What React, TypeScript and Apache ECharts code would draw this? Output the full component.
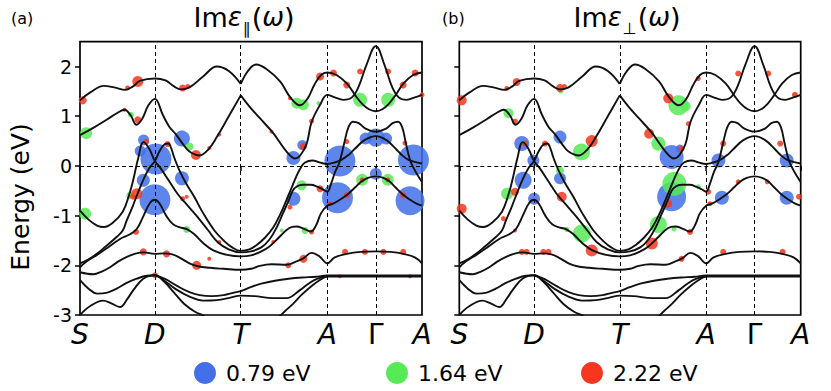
import React, { useEffect, useRef } from 'react';
import * as echarts from 'echarts';

const FONT = "'DejaVu Sans', 'Noto Sans', sans-serif";

// high-symmetry points along the k-path
const kPointLabels = ['S', 'D', 'T', 'A', 'Γ', 'A'];
const kPointPos = [0, 21.9, 47, 72.3, 86.5, 100];
const energyTicks = [-3, -2, -1, 0, 1, 2];

// band structure (k-path coordinate, energy eV)
const bandTopA = [[0,1.32],[3,1.48],[7,1.61],[10,1.58],[13.3,1.53],[15.5,1.6],[17.5,1.71],[21.9,1.76],[25,1.72],[27.5,1.6],[29.5,1.54],[32,1.58],[36,1.8],[40,2.0],[43.5,1.91],[47,1.65]];
const bandTopB = [[47,1.65],[49,1.9],[51.5,2.04],[54.5,1.95],[58.5,1.7],[61.5,1.38],[64.3,1.22],[66.5,1.35],[68.5,1.63],[70.5,1.83],[72.3,1.88],[75,1.83],[78,1.66],[80.5,1.42],[82.5,1.25],[84.5,1.14],[86.5,1.1],[88.4,1.14],[90.3,1.25],[92.2,1.42],[94.6,1.66],[97.4,1.83],[100,1.88]];
const bandSecondA = [[0,0.62],[4,0.77],[8,0.94],[11,1.07],[13,1.13],[14.8,1.02],[16.5,0.83],[18.2,0.95],[20,1.22],[21.9,1.35],[24.2,1.03],[26.1,0.79],[28.1,0.63],[30,0.45],[32,0.29],[35,0.21],[37.5,0.33],[40,0.58],[43.5,1.0],[47,1.42]];
const bandSecondB = [[47,1.42],[49.5,1.2],[52.6,0.96],[56.5,0.66],[60.4,0.29],[62.9,0.15],[64.5,0.22],[66.3,0.45],[67.7,0.88],[70.2,1.23],[72.3,1.43],[74.5,1.38],[77,1.33],[79.5,1.38],[81.5,1.6],[83.8,2.04],[86.5,2.41],[89,2.04],[91.2,1.6],[93.2,1.38],[95.5,1.33],[97.9,1.38],[100,1.43]];
const bandLeftPeak = [[0,-0.9],[2.5,-1.08],[5,-1.2],[7,-1.23],[9.5,-1.15],[12.5,-0.92],[14.2,-0.62],[15.5,-0.3],[17,0.15],[18.6,0.48],[20.2,0.35],[21.9,0.1],[23.6,-0.05],[26,-0.3],[28.5,-0.56],[31.5,-0.8],[34.4,-1.03],[37.5,-1.3],[40.2,-1.53],[43.5,-1.68],[47,-1.74],[50,-1.72],[53,-1.64],[55.4,-1.48],[57.5,-1.24],[59.3,-0.96],[61,-0.7],[62.2,-0.5],[63.5,-0.41],[65.1,-0.38],[67.5,-0.38],[69.5,-0.42],[71,-0.47],[72.3,-0.52],[73.4,-0.36],[74.6,-0.12],[75.9,0.08],[77.3,0.47],[78.5,0.78],[79.8,0.89],[81.5,0.86],[83.5,0.75],[86.5,0.69],[89.5,0.75],[91.4,0.86],[93,0.89],[94.2,0.78],[95.3,0.45],[96.5,0.12],[97.6,-0.05],[99,-0.22],[100,-0.32]];
const bandRightPeak = [[0,-1.96],[2.5,-1.88],[4.9,-1.77],[7.5,-1.62],[10.7,-1.43],[12.5,-1.3],[13.7,-1.09],[15.2,-0.85],[16.6,-0.6],[18.5,-0.28],[20.2,-0.05],[21.9,0.1],[23.3,0.3],[24.8,0.44],[25.8,0.45],[26.7,0.35],[27.5,0.18],[29,-0.08],[31,-0.35],[33.4,-0.62],[36,-0.95],[39.3,-1.3],[42,-1.5],[44.5,-1.64],[47,-1.71],[49.5,-1.68],[51.5,-1.6],[54,-1.45],[56.4,-1.25],[58.5,-0.98],[60.3,-0.7],[61.8,-0.45],[63.2,-0.22],[64.5,-0.04],[65.8,0.07],[68,0.11],[70,0.07],[72.3,0.04],[74,0.06],[76.4,0.12],[78.5,0.22],[80.3,0.34],[83.2,0.52],[86.5,0.6],[89.6,0.52],[92.4,0.34],[94.1,0.22],[96.1,0.12],[98.4,0.07],[100,0.05]];
const bandDPeak = [[0,-2.04],[2,-1.92],[5,-1.79],[8,-1.65],[11.7,-1.47],[14.5,-1.38],[16.6,-1.27],[18.6,-1.0],[20.5,-0.74],[21.9,-0.68],[23.3,-0.76],[25.2,-1.0],[27.3,-1.18],[29.5,-1.24],[31.5,-1.28],[33.5,-1.38],[36,-1.55],[39,-1.7],[43,-1.79],[47,-1.82],[50,-1.8],[53,-1.72],[55.4,-1.62],[58.3,-1.43],[61.2,-1.25],[63.3,-1.22],[65.3,-1.26],[67.5,-1.32],[69,-1.2],[70.5,-0.95],[72.3,-0.8],[74,-0.76],[76,-0.68],[78.3,-0.57],[80.5,-0.43],[82.2,-0.32],[84.2,-0.24],[86.5,-0.21],[88.7,-0.24],[90.6,-0.32],[92.2,-0.43],[94.3,-0.57],[96.5,-0.68],[98.4,-0.76],[100,-0.8]];
const bandFlat = [[0,-2.14],[3.9,-2.18],[6.5,-2.12],[8.8,-2.04],[11,-1.93],[13.7,-1.83],[16,-1.77],[18.6,-1.74],[21.9,-1.77],[24.5,-1.76],[27,-1.78],[29.5,-1.86],[32,-1.96],[34.5,-2.02],[38,-2.05],[42,-2.07],[47,-2.09],[50,-2.07],[52.6,-2.01],[56,-1.98],[60.4,-1.99],[63,-1.93],[65.3,-1.86],[67.7,-1.75],[70,-1.82],[72.3,-1.96],[74.5,-1.84],[78,-1.77],[82,-1.73],[86.5,-1.72],[90.8,-1.73],[94.6,-1.77],[97.9,-1.84],[100,-1.96]];
const bandLow1 = [[0,-2.3],[2.5,-2.47],[5,-2.57],[8,-2.55],[10.7,-2.47],[13.5,-2.36],[16.6,-2.27],[19.5,-2.21],[21.9,-2.2],[24.5,-2.3],[28,-2.48],[32,-2.63],[36,-2.71],[40,-2.7],[44,-2.65],[47,-2.61],[51,-2.62],[56.5,-2.66],[60.4,-2.66],[64.3,-2.5],[67,-2.36],[69.5,-2.27],[72.3,-2.225],[80,-2.225],[90,-2.225],[100,-2.225]];
const bandLowV = [[21.9,-2.2],[25,-2.28],[28.5,-2.42],[32,-2.54],[35,-2.6],[38.5,-2.62],[42,-2.6],[45,-2.55],[47,-2.52],[49.5,-2.45],[53,-2.37],[57,-2.31],[61,-2.27],[65,-2.245],[69,-2.23],[72.3,-2.205],[80,-2.205],[90,-2.205],[100,-2.205]];
const bandLow2 = [[0,-3.0],[3,-2.82],[6.8,-2.71],[9,-2.76],[11.7,-2.84],[13.8,-2.68],[15.6,-2.5],[18.5,-2.27],[21.9,-2.2],[24.5,-2.32],[27.5,-2.55],[30.5,-2.78],[33.5,-2.93],[36.3,-3.02],[38,-3.1]];
const bandFromBelow = [[57.5,-3.08],[60,-2.92],[62.5,-2.76],[65,-2.58],[68,-2.4],[70.5,-2.28],[72.3,-2.22]];

const bands = [bandTopA, bandTopB, bandSecondA, bandSecondB, bandLeftPeak, bandRightPeak, bandDPeak, bandFlat, bandLow1, bandLowV, bandLow2, bandFromBelow];

// transition weights: [k, E, bubble size]
const parBlue = [[18.6,0.52,11],[17.6,0.3,11],[22.2,0.14,31],[29.8,0.55,16],[18.5,-0.29,13],[29.8,-0.25,14],[21.9,-0.68,31],[62.4,0.16,14],[65,0.42,10],[86.5,0.57,18],[83.5,0.55,12],[89.5,0.55,12],[76,0.1,31],[97.5,0.12,31],[86.5,-0.16,12],[62.4,-0.66,14],[75.3,-0.64,31],[96.5,-0.7,29]];
const parGreen = [[1.8,0.66,12],[1.5,-0.96,12],[14.9,1.03,6],[32,0.39,8],[14.6,-0.59,7],[31.2,-1.28,7],[63.4,1.26,11],[65.3,1.23,11],[69.7,1.26,4],[81.9,1.33,14],[90.1,1.33,14],[82.5,-0.28,12],[90,-0.28,12],[64.8,-0.39,10],[65.8,-1.3,7],[59,-1.3,4]];
const parRed = [[0.8,1.32,8],[13.9,1.57,5],[16.9,1.7,11],[30,1.57,7],[31.5,1.6,5],[13,1.13,4],[16.9,0.93,7],[25.6,0.44,6],[19.3,0.48,6],[33.9,0.22,10],[37.8,0.36,4],[40.7,0.63,4],[16.6,-0.56,11],[15.5,-0.62,6],[30,-0.66,5],[31.2,-0.62,4],[16.4,-1.33,6],[40.7,-1.53,4],[37.8,-1.87,4],[18.5,-1.73,7],[25.3,-1.77,7],[34.1,-2.0,9],[21.9,-2.2,6],[61.4,1.36,4],[70.2,1.8,8],[74.1,1.87,7],[78,1.63,7],[81.9,1.9,6],[90.1,1.9,6],[94.5,1.63,7],[98,1.87,7],[100,1.43,5],[67.7,0.9,5],[65.3,0.39,7],[56,0.69,4],[78,0.49,5],[95,0.46,5],[70.2,-0.46,7],[61.4,-0.83,5],[56.5,-1.53,4],[67.7,-1.33,5],[60.9,-2.0,6],[65.3,-1.87,8],[77.5,-1.73,6],[83.3,-1.73,6],[88.7,-1.73,6],[94.5,-1.73,6],[76,-2.22,4],[96.5,-2.22,4],[78,-0.59,6],[94.5,-0.59,6],[82.5,-0.28,5],[90,-0.28,5],[73.1,-0.76,5]];
const perpBlue = [[18.3,0.45,15],[21.7,0.11,12],[18.7,-0.29,17],[29.5,0.58,13],[29.5,-0.25,12],[21.9,-0.66,12],[62.2,0.18,24],[64.6,0.35,8],[75.9,0.11,14],[95.9,0.11,14],[62.2,-0.62,29],[76.9,-0.64,14],[95.9,-0.64,14]];
const perpGreen = [[14.4,1.06,10],[29.7,1.52,6],[35.8,0.28,17],[58.3,0.45,14],[64.2,1.22,20],[66.3,1.2,10],[63,-0.36,24],[14,-0.56,12],[29.5,-0.09,8],[31.5,-1.28,5],[35.9,-1.36,18],[58.3,-1.18,17],[62.9,-1.27,5],[70,-0.42,5],[98.3,1.43,4]];
const perpRed = [[0.7,1.32,10],[13.9,1.56,5],[16.8,1.69,8],[29.5,1.57,8],[30.8,1.6,5],[16.3,0.89,6],[19.3,0.45,6],[25.1,0.45,6],[38.8,0.5,12],[55.6,0.65,10],[65.1,0.35,6],[67.1,0.85,5],[61.2,1.36,10],[70,1.76,5],[81.7,1.86,6],[90.5,1.86,6],[98.3,1.43,6],[77.3,0.45,6],[94,0.45,6],[81.7,-0.32,5],[90.2,-0.32,5],[72.9,-0.52,6],[99.5,-0.62,6],[0.7,-0.86,10],[12.9,-1.06,5],[16.3,-0.52,8],[16.3,-1.3,4],[18.3,-1.73,6],[19.7,-1.73,6],[24.6,-1.73,6],[26.1,-1.73,6],[30,-0.62,10],[38.8,-1.7,12],[56.4,-1.56,12],[61.2,-0.76,8],[67.6,-1.33,6],[65.1,-1.87,6],[77.3,-1.73,6],[94.7,-1.73,6],[73.4,-0.76,5]];

const seriesNames = ['0.79 eV', '1.64 eV', '2.22 eV'];
const colors = ['#4170e8', '#57ea57', '#f6361f'];

export default function App() {
  const ref = useRef<HTMLDivElement>(null);
  useEffect(() => {
    if (!ref.current) return;
    const chart = echarts.init(ref.current, null, { renderer: 'svg' });
    const grids = [
      { left: 80, top: 41.7, width: 342, height: 273.3 },
      { left: 459.3, top: 41.7, width: 341.4, height: 273.3 },
    ];
    const bubbleSets = [
      [parBlue, parGreen, parRed],
      [perpBlue, perpGreen, perpRed],
    ];
    const series: any[] = [];
    grids.forEach((_, g) => {
      series.push({
        type: 'line', xAxisIndex: g, yAxisIndex: g, data: [], silent: true, z: 1,
        markLine: {
          silent: true, symbol: ['none', 'none'], label: { show: false },
          lineStyle: { type: [4, 3], color: '#000', width: 1 },
          data: [
            ...kPointPos.slice(1, 5).map((v) => ({ xAxis: v })),
            { yAxis: 0 },
          ],
        },
      });
      bubbleSets[g].forEach((arr, c) => {
        series.push({
          type: 'scatter', name: seriesNames[c], xAxisIndex: g, yAxisIndex: g,
          data: arr, symbolSize: (v: number[]) => v[2], z: 2, silent: true,
          itemStyle: { color: colors[c], opacity: 0.85 },
        });
      });
      bands.forEach((b) => {
        series.push({
          type: 'line', xAxisIndex: g, yAxisIndex: g, data: b, smooth: 0.4,
          showSymbol: false, silent: true, z: 3,
          lineStyle: { color: '#111', width: 1.9 },
        });
      });
    });

    const xAxes = grids.map((_, g) => ({
      type: 'value', gridIndex: g, min: 0, max: 100,
      axisLine: { show: false },
      splitLine: { show: false },
      axisTick: { show: true, customValues: kPointPos, length: 5, lineStyle: { color: '#000', width: 1.5 } },
      axisLabel: {
        customValues: kPointPos, margin: 5,
        formatter: (v: number) => {
          const i = kPointPos.indexOf(v);
          const t = kPointLabels[i];
          return t === 'Γ' ? `{up|${t}}` : `{it|${t}}`;
        },
        rich: {
          it: { fontFamily: FONT, fontStyle: 'italic', fontSize: 28, color: '#000' },
          up: { fontFamily: FONT, fontSize: 28, color: '#000' },
        },
      },
    }));
    const yAxes = grids.map((_, g) => ({
      type: 'value', gridIndex: g, min: -3, max: 2.5, interval: 1,
      axisLine: { show: false },
      splitLine: { show: false },
      axisTick: { show: true, customValues: energyTicks, length: 5, lineStyle: { color: '#000', width: 1.5 } },
      axisLabel: {
        show: g === 0, customValues: energyTicks, margin: 8,
        fontFamily: FONT, fontSize: 19, color: '#000',
      },
    }));

    const titleRich = {
      r: { fontFamily: FONT, fontSize: 27, color: '#000', lineHeight: 32, verticalAlign: 'top' },
      e: { fontFamily: FONT, fontStyle: 'italic', fontSize: 26, color: '#000', lineHeight: 32, verticalAlign: 'top' },
      s: { fontFamily: FONT, fontSize: 16, color: '#000', lineHeight: 16, padding: [20, 1, 0, 1], verticalAlign: 'bottom' },
    };

    const legendX = [205, 397, 592];
    const legendGraphics: any[] = [];
    seriesNames.forEach((n, i) => {
      legendGraphics.push({ type: 'circle', shape: { cx: legendX[i], cy: 373, r: 11 }, style: { fill: colors[i] } });
      legendGraphics.push({ type: 'text', x: legendX[i] + 21, y: 373, style: { text: n, fontFamily: FONT, fontSize: 22, fill: '#000', verticalAlign: 'middle' } });
    });

    chart.setOption({
      animation: false,
      grid: grids.map((gr) => ({ ...gr, show: true, borderColor: '#000', borderWidth: 1.7, backgroundColor: 'transparent' })),
      xAxis: xAxes,
      yAxis: yAxes,
      graphic: [
        { type: 'text', x: 11, y: 18, style: { text: '(a)', fontFamily: FONT, fontSize: 16, fill: '#000', verticalAlign: 'middle' } },
        { type: 'text', x: 442, y: 18, style: { text: '(b)', fontFamily: FONT, fontSize: 16, fill: '#000', verticalAlign: 'middle' } },
        { type: 'text', x: 244, y: 4, style: { text: '{r|Im}{e|ε}{s|∥}{r|(}{e|ω}{r|)}', align: 'center', verticalAlign: 'top', rich: titleRich } },
        { type: 'text', x: 627, y: 4, style: { text: '{r|Im}{e|ε}{s|⊥}{r|(}{e|ω}{r|)}', align: 'center', verticalAlign: 'top', rich: titleRich } },
        { type: 'text', x: 20, y: 197, rotation: Math.PI / 2, style: { text: 'Energy (eV)', fontFamily: FONT, fontSize: 25, fill: '#000', align: 'center', verticalAlign: 'middle' } },
        ...legendGraphics,
      ],
      series,
    });
    return () => chart.dispose();
  }, []);
  return <div ref={ref} style={{ position: 'fixed', left: 0, top: 0, width: 831, height: 391, background: '#fff' }} />;
}
